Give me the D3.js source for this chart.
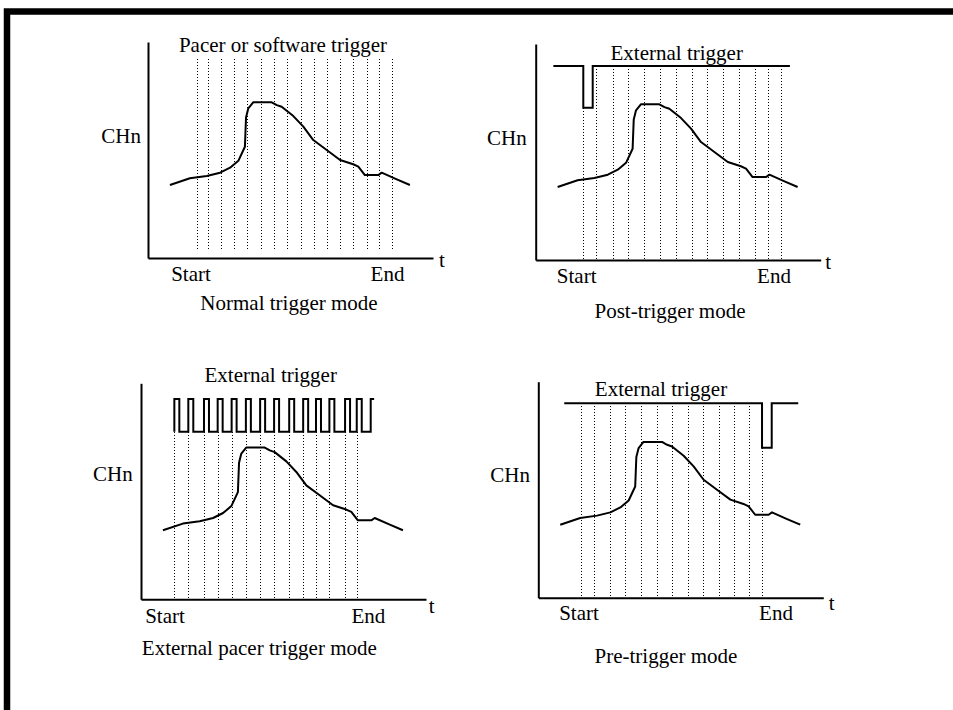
<!DOCTYPE html>
<html>
<head>
<meta charset="utf-8">
<script src="https://cdn.jsdelivr.net/npm/d3@7"></script>
<style>
  body { margin: 0; background: #fff; }
  text { font-family: "Liberation Serif", "Times New Roman", serif; font-size: 21px; fill: #000; }
</style>
</head>
<body>
<svg id="chart" width="953" height="710"></svg>
<script>
// signal shape (same in every panel), t and value both on 0..100
const curve_t = [7.7, 14.7, 20.6, 25.3, 28.8, 31.7, 34.0, 34.4, 35.2, 36.9, 43.4, 45.2, 46.9, 51.0, 54.5, 58.0, 62.7, 67.4, 72.0, 73.8, 76.1, 80.8, 82.0, 87.3, 91.9];
const curve_v = [33.8, 36.9, 38.0, 39.5, 41.8, 45.0, 51.5, 65.1, 69.3, 72.1, 72.1, 70.8, 70.0, 65.7, 60.8, 54.6, 50.0, 45.4, 43.4, 42.3, 38.4, 38.4, 39.5, 36.4, 33.8];

// sample instants (dotted lines)
const samples_normal = [17.1, 20.9, 25.5, 30.1, 34.6, 39.5, 44.2, 48.9, 53.6, 58.2, 62.9, 67.4, 72.0, 76.7, 81.2, 85.5];
const samples_post   = [16.7, 21.2, 27.0, 32.5, 38.0, 43.6, 49.2, 54.7, 60.2, 65.8, 71.4, 76.9, 81.4, 86.0];
const samples_pacer  = [11.7, 16.6, 22.1, 26.9, 31.8, 36.8, 41.8, 46.7, 52.0, 56.9, 61.4, 66.1, 71.6, 75.7];
const samples_pre    = [14.9, 19.6, 25.2, 30.5, 35.9, 41.5, 47.0, 52.4, 57.9, 63.4, 68.8, 74.0, 78.5];

// external trigger lines
const trig_post_t = [6.2, 16.7, 16.7, 20.0, 20.0, 89.2];
const trig_post_v = [89.8, 89.8, 70.5, 70.5, 89.8, 89.8];
const trig_pre_t  = [9.1, 78.5, 78.5, 81.9, 81.9, 91.2];
const trig_pre_v  = [90.0, 90.0, 69.4, 69.4, 90.0, 90.0];
// pacer clock: rising edges, high / low levels
const pacer_edges = [11.7, 16.6, 22.1, 26.9, 31.8, 36.8, 41.8, 46.7, 52.0, 56.9, 61.4, 66.1, 71.6, 75.7, 80.6];
const pacer_high = 92.7, pacer_low = 77.6;

const titles   = ["Pacer or software trigger", "External trigger", "External trigger", "External trigger"];
const captions = ["Normal trigger mode", "Post-trigger mode", "External pacer trigger mode", "Pre-trigger mode"];
const y_label = "CHn", x_label = "t", start_label = "Start", end_label = "End";

const W = 285, H = 216;
const svg = d3.select("#chart");

// frame
svg.append("rect")
  .attr("x", 7).attr("y", 11.5)
  .attr("width", 1000).attr("height", 800)
  .style("fill", "none").style("stroke", "#000").style("stroke-width", 6.5);

function pacer_wave(edges) {
  let pts = [];
  edges.forEach(function (e, i) {
    pts.push([e, pacer_low], [e, pacer_high]);
    if (i < edges.length - 1) pts.push([e + 1.75, pacer_high], [e + 1.75, pacer_low]);
    else pts.push([e + 1.2, pacer_high]);
  });
  return pts;
}

const panels = [
  { ox: 148, oy: 258, dy: 0, samples: samples_normal, trig: null, dotTop: 92.0, dotBot: 3.7,
    title: [135, -206], chn: [-7, -114.7], start: [43, 22.7], end: [239.5, 22.7], t: [294, 9.3], cap: [141, 52] },
  { ox: 535.7, oy: 260, dy: 0, samples: samples_post, trig: d3.zip(trig_post_t, trig_post_v), dotBot: 0,
    title: [141, -200], chn: [-9, -115], start: [41, 23], end: [238.3, 23], t: [292.5, 9.3], cap: [134.3, 58] },
  { ox: 141, oy: 599.3, dy: 4, samples: samples_pacer, trig: pacer_wave(pacer_edges), dotTop: pacer_low, dotBot: 0,
    title: [129.7, -217], chn: [-8.3, -118.6], start: [24, 24], end: [227.3, 24], t: [290.7, 14], cap: [118.3, 55.7] },
  { ox: 538.3, oy: 597.7, dy: 0, samples: samples_pre, trig: d3.zip(trig_pre_t, trig_pre_v), dotBot: 0,
    title: [122.7, -202], chn: [-8.3, -116], start: [40.7, 22.3], end: [237.7, 22.3], t: [293.4, 12.3], cap: [127.7, 65.6] }
];

panels.forEach(function (p, i) {
  let g = svg.append("g").attr("transform", "translate(" + p.ox + "," + (p.oy - H) + ")");
  let x = d3.scaleLinear().domain([0, 100]).range([0, W]);
  let y = d3.scaleLinear().domain([0, 100]).range([H, 0]);
  let line = d3.line().x(function (d) { return x(d[0]); }).y(function (d) { return y(d[1]); });

  // axes: bare lines only
  g.append("g").attr("transform", "translate(0," + H + ")")
    .call(d3.axisBottom(x).ticks(0).tickSizeOuter(0))
    .select(".domain").style("stroke-width", 2);
  g.append("g")
    .call(d3.axisLeft(y).ticks(0).tickSizeOuter(0))
    .select(".domain").style("stroke-width", 2);

  // dotted sample lines, snapped to the pixel grid so the dots stay dark
  let snap = function (v) { return Math.round(v + p.ox) - p.ox + 0.5; };
  g.selectAll(".sample")
    .data(p.samples)
    .enter().append("line")
    .attr("class", "sample")
    .attr("x1", function (d) { return snap(x(d)); })
    .attr("x2", function (d) { return snap(x(d)); })
    .attr("y1", function (d) {
      if (p.dotTop !== undefined) return y(p.dotTop);
      let onEdge = p.trig.filter(function (q) { return Math.abs(q[0] - d) < 0.3; }).map(function (q) { return q[1]; });
      return y(onEdge.length ? d3.min(onEdge) : d3.max(p.trig, function (q) { return q[1]; }));
    })
    .attr("y2", y(p.dotBot))
    .style("stroke", "#000").style("stroke-width", 1)
    .style("stroke-dasharray", "1,2")
    .style("shape-rendering", "crispEdges");

  if (p.trig) {
    g.append("path").datum(p.trig)
      .attr("d", line)
      .style("fill", "none").style("stroke", "#000").style("stroke-width", 2);
  }

  // the measured signal
  g.append("path").datum(d3.zip(curve_t, curve_v))
    .attr("d", line)
    .attr("transform", "translate(0," + p.dy + ")")
    .style("fill", "none").style("stroke", "#000").style("stroke-width", 2)
    .style("stroke-linejoin", "round");

  let lab = svg.append("g").attr("transform", "translate(" + p.ox + "," + p.oy + ")");
  lab.append("text").attr("x", p.title[0]).attr("y", p.title[1]).style("text-anchor", "middle").text(titles[i]);
  lab.append("text").attr("x", p.chn[0]).attr("y", p.chn[1]).style("text-anchor", "end").text(y_label);
  lab.append("text").attr("x", p.start[0]).attr("y", p.start[1]).style("text-anchor", "middle").text(start_label);
  lab.append("text").attr("x", p.end[0]).attr("y", p.end[1]).style("text-anchor", "middle").text(end_label);
  lab.append("text").attr("x", p.t[0]).attr("y", p.t[1]).style("text-anchor", "middle").text(x_label);
  lab.append("text").attr("x", p.cap[0]).attr("y", p.cap[1]).style("text-anchor", "middle").text(captions[i]);
});
</script>
</body>
</html>
